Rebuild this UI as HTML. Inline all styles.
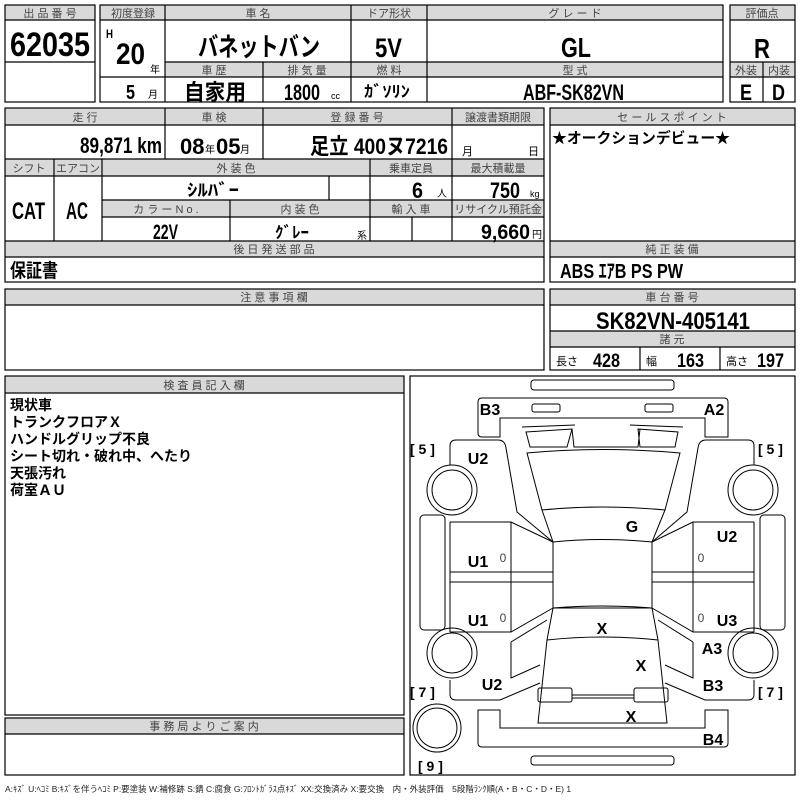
<!DOCTYPE html>
<html><head><meta charset="utf-8">
<style>
html,body{margin:0;padding:0;background:#fff;}
svg{display:block;}
text{font-family:"Liberation Sans","Noto Sans CJK JP",sans-serif;}
.h{font-size:11px;fill:#444;text-anchor:middle;}
.v{font-weight:bold;fill:#000;}
.m{text-anchor:middle;}
.e{text-anchor:end;}
</style></head><body>
<svg width="800" height="800" viewBox="0 0 800 800" xmlns="http://www.w3.org/2000/svg">
<g fill="#d9d9d9" stroke="none">
<rect x="5" y="5" width="90" height="15"/>
<rect x="100" y="5" width="623" height="15"/>
<rect x="165" y="62" width="558" height="15"/>
<rect x="730" y="5" width="65" height="15"/>
<rect x="730" y="62" width="65" height="15"/>
<rect x="5" y="108" width="539" height="17"/>
<rect x="5" y="159" width="539" height="17"/>
<rect x="102" y="200" width="442" height="17"/>
<rect x="5" y="241" width="539" height="16"/>
<rect x="550" y="108" width="245" height="17"/>
<rect x="550" y="241" width="245" height="16"/>
<rect x="5" y="289" width="539" height="16"/>
<rect x="550" y="289" width="245" height="16"/>
<rect x="550" y="331" width="245" height="16"/>
<rect x="5" y="376" width="399" height="17"/>
<rect x="5" y="718" width="399" height="16"/>
</g>
<g fill="none" stroke="#000" stroke-width="1.2">
<rect x="5" y="5" width="90" height="97"/>
<line x1="5" y1="20" x2="95" y2="20"/><line x1="5" y1="62" x2="95" y2="62"/>
<rect x="100" y="5" width="623" height="97"/>
<line x1="100" y1="20" x2="723" y2="20"/><line x1="165" y1="62" x2="723" y2="62"/><line x1="100" y1="77" x2="723" y2="77"/>
<line x1="165" y1="5" x2="165" y2="102"/><line x1="351" y1="5" x2="351" y2="102"/><line x1="427" y1="5" x2="427" y2="102"/><line x1="263" y1="62" x2="263" y2="102"/>
<rect x="730" y="5" width="65" height="97"/>
<line x1="730" y1="20" x2="795" y2="20"/><line x1="730" y1="62" x2="795" y2="62"/><line x1="730" y1="77" x2="795" y2="77"/><line x1="763" y1="62" x2="763" y2="102"/>
<rect x="5" y="108" width="539" height="174"/>
<line x1="5" y1="125" x2="544" y2="125"/><line x1="5" y1="159" x2="544" y2="159"/><line x1="5" y1="176" x2="544" y2="176"/>
<line x1="102" y1="200" x2="544" y2="200"/><line x1="102" y1="217" x2="544" y2="217"/><line x1="5" y1="241" x2="544" y2="241"/><line x1="5" y1="257" x2="544" y2="257"/>
<line x1="165" y1="108" x2="165" y2="159"/><line x1="263" y1="108" x2="263" y2="159"/><line x1="452" y1="108" x2="452" y2="159"/>
<line x1="54" y1="159" x2="54" y2="241"/><line x1="102" y1="159" x2="102" y2="241"/><line x1="370" y1="159" x2="370" y2="241"/><line x1="452" y1="159" x2="452" y2="241"/>
<line x1="329" y1="176" x2="329" y2="200"/><line x1="230" y1="200" x2="230" y2="241"/><line x1="412" y1="217" x2="412" y2="241"/>
<rect x="550" y="108" width="245" height="174"/>
<line x1="550" y1="125" x2="795" y2="125"/><line x1="550" y1="241" x2="795" y2="241"/><line x1="550" y1="257" x2="795" y2="257"/>
<rect x="5" y="289" width="539" height="81"/><line x1="5" y1="305" x2="544" y2="305"/>
<rect x="550" y="289" width="245" height="81"/>
<line x1="550" y1="305" x2="795" y2="305"/><line x1="550" y1="331" x2="795" y2="331"/><line x1="550" y1="347" x2="795" y2="347"/>
<line x1="640" y1="347" x2="640" y2="370"/><line x1="720" y1="347" x2="720" y2="370"/>
<rect x="5" y="376" width="399" height="339"/><line x1="5" y1="393" x2="404" y2="393"/>
<rect x="5" y="718" width="399" height="57"/><line x1="5" y1="734" x2="404" y2="734"/>
<rect x="410" y="376" width="385" height="399"/>
</g>
<text class="h" x="50" y="17">出 品 番 号</text>
<text class="h" x="133" y="17">初度登録</text>
<text class="h" x="258" y="17">車 名</text>
<text class="h" x="389" y="17">ドア形状</text>
<text class="h" x="575" y="17">グ レ ー ド</text>
<text class="h" x="762" y="17">評価点</text>
<text class="h" x="214" y="74">車 歴</text>
<text class="h" x="307" y="74">排 気 量</text>
<text class="h" x="389" y="74">燃 料</text>
<text class="h" x="575" y="74">型 式</text>
<text class="h" x="746" y="74">外装</text>
<text class="h" x="779" y="74">内装</text>
<text class="h" x="85" y="121">走 行</text>
<text class="h" x="214" y="121">車 検</text>
<text class="h" x="357" y="121">登 録 番 号</text>
<text class="h" x="498" y="121">譲渡書類期限</text>
<text class="h" x="29" y="172">シフト</text>
<text class="h" x="78" y="172">エアコン</text>
<text class="h" x="236" y="172">外 装 色</text>
<text class="h" x="411" y="172">乗車定員</text>
<text class="h" x="498" y="172">最大積載量</text>
<text class="h" x="166" y="213">カ ラ ー N o .</text>
<text class="h" x="300" y="213">内 装 色</text>
<text class="h" x="411" y="213">輸 入 車</text>
<text class="h" x="498" y="213">リサイクル預託金</text>
<text class="h" x="274" y="253">後 日 発 送 部 品</text>
<text class="h" x="672" y="121">セ ー ル ス ポ イ ン ト</text>
<text class="h" x="672" y="253">純 正 装 備</text>
<text class="h" x="274" y="301">注 意 事 項 欄</text>
<text class="h" x="672" y="301">車 台 番 号</text>
<text class="h" x="672" y="343">諸 元</text>
<text class="h" x="204" y="389">検 査 員 記 入 欄</text>
<text class="h" x="204" y="730">事 務 局 よ り ご 案 内</text>
<g class="v">
<text x="10" y="56" font-size="34" textLength="80" lengthAdjust="spacingAndGlyphs">62035</text>
<text x="106" y="38" font-size="12" textLength="7" lengthAdjust="spacingAndGlyphs">H</text>
<text x="116" y="64" font-size="30" textLength="29" lengthAdjust="spacingAndGlyphs">20</text>
<text x="150" y="73" font-size="10" font-weight="normal">年</text>
<text x="126" y="99" font-size="20" textLength="9" lengthAdjust="spacingAndGlyphs">5</text>
<text x="148" y="98" font-size="10" font-weight="normal">月</text>
<text x="198" y="56" font-size="26" textLength="122" lengthAdjust="spacingAndGlyphs">バネットバン</text>
<text x="375" y="57" font-size="27" textLength="27" lengthAdjust="spacingAndGlyphs">5V</text>
<text x="561" y="57" font-size="28" textLength="30" lengthAdjust="spacingAndGlyphs">GL</text>
<text x="754" y="58" font-size="28" textLength="16" lengthAdjust="spacingAndGlyphs">R</text>
<text x="184" y="100" font-size="22" textLength="62" lengthAdjust="spacingAndGlyphs">自家用</text>
<text x="284" y="100" font-size="22" textLength="36" lengthAdjust="spacingAndGlyphs">1800</text>
<text x="331" y="99" font-size="9" font-weight="normal">cc</text>
<text x="364" y="97" font-size="16" textLength="46" lengthAdjust="spacingAndGlyphs">ｶﾞｿﾘﾝ</text>
<text x="523" y="100" font-size="22" textLength="101" lengthAdjust="spacingAndGlyphs">ABF-SK82VN</text>
<text x="740" y="100" font-size="22" textLength="12" lengthAdjust="spacingAndGlyphs">E</text>
<text x="772" y="100" font-size="22" textLength="13" lengthAdjust="spacingAndGlyphs">D</text>
<text x="80" y="153" font-size="22" textLength="82" lengthAdjust="spacingAndGlyphs">89,871 km</text>
<text x="180" y="154" font-size="22">08</text>
<text x="205" y="153" font-size="10" font-weight="normal">年</text>
<text x="216" y="154" font-size="22">05</text>
<text x="240" y="153" font-size="10" font-weight="normal">月</text>
<text x="310" y="154" font-size="22" textLength="138" lengthAdjust="spacingAndGlyphs">足立 400ヌ7216</text>
<text x="462" y="155" font-size="11" font-weight="normal">月</text>
<text x="528" y="155" font-size="11" font-weight="normal">日</text>
<text x="187" y="196" font-size="17" textLength="52" lengthAdjust="spacingAndGlyphs">ｼﾙﾊﾞｰ</text>
<text x="412" y="198" font-size="22" textLength="11" lengthAdjust="spacingAndGlyphs">6</text>
<text x="437" y="197" font-size="10" font-weight="normal">人</text>
<text x="490" y="198" font-size="22" textLength="30" lengthAdjust="spacingAndGlyphs">750</text>
<text x="530" y="197" font-size="9" font-weight="normal">kg</text>
<text x="12" y="219" font-size="24" textLength="33" lengthAdjust="spacingAndGlyphs">CAT</text>
<text x="66" y="219" font-size="24" textLength="22" lengthAdjust="spacingAndGlyphs">AC</text>
<text x="153" y="239" font-size="21" textLength="25" lengthAdjust="spacingAndGlyphs">22V</text>
<text x="275" y="238" font-size="16" textLength="34" lengthAdjust="spacingAndGlyphs">ｸﾞﾚｰ</text>
<text x="357" y="239" font-size="10" font-weight="normal">系</text>
<text x="481" y="239" font-size="21" textLength="49" lengthAdjust="spacingAndGlyphs">9,660</text>
<text x="532" y="238" font-size="10" font-weight="normal">円</text>
<text x="10" y="277" font-size="19" textLength="48" lengthAdjust="spacingAndGlyphs">保証書</text>
<text x="552" y="143" font-size="15" textLength="178" lengthAdjust="spacingAndGlyphs">★オークションデビュー★</text>
<text x="560" y="278" font-size="20" textLength="123" lengthAdjust="spacingAndGlyphs">ABS ｴｱB PS PW</text>
<text x="596" y="329" font-size="24" textLength="154" lengthAdjust="spacingAndGlyphs">SK82VN-405141</text>
<text x="556" y="365" font-size="11" font-weight="normal">長さ</text>
<text x="593" y="367" font-size="19" textLength="27" lengthAdjust="spacingAndGlyphs">428</text>
<text x="646" y="365" font-size="11" font-weight="normal">幅</text>
<text x="677" y="367" font-size="19" textLength="27" lengthAdjust="spacingAndGlyphs">163</text>
<text x="726" y="365" font-size="11" font-weight="normal">高さ</text>
<text x="757" y="367" font-size="19" textLength="27" lengthAdjust="spacingAndGlyphs">197</text>
</g>
<g font-size="14" font-weight="bold">
<text x="10" y="410">現状車</text>
<text x="10" y="427">トランクフロアＸ</text>
<text x="10" y="444">ハンドルグリップ不良</text>
<text x="10" y="461">シート切れ・破れ中、へたり</text>
<text x="10" y="478">天張汚れ</text>
<text x="10" y="495">荷室ＡＵ</text>
</g>
<g fill="none" stroke="#000" stroke-width="1">
<rect x="531" y="380" width="143" height="10" rx="3"/>
<rect x="531" y="756" width="143" height="9" rx="3"/>
<path d="M482,398 L724,398 Q728,398 728,402 L728,437 L705,437 L705,418 L500,418 L500,437 L482,437 Q478,437 478,433 L478,402 Q478,398 482,398 Z"/>
<rect x="532" y="404" width="28" height="8" rx="2"/><rect x="645" y="404" width="28" height="8" rx="2"/>
<path d="M478,710 L500,710 L500,728 L705,728 L705,710 L728,710 L728,743 Q728,747 724,747 L482,747 Q478,747 478,743 Z"/>
<path d="M522,427 L575,425 M630,425 L683,427"/>
<path d="M526,432 L572,429 L567,447 L530,447 Z M638,429 L678,432 L675,447 L640,447 Z"/>
<path d="M572,429 L574,447 L638,447 L640,429"/>
<path d="M527,453 Q602,446 680,453 L665,510 Q602,504 542,510 Z"/>
<path d="M542,510 L553,542 Q602,537 652,542 L665,510"/>
<path d="M553,542 L553,608 L652,608 L652,542"/>
<path d="M553,608 Q602,604 652,608 L658,640 Q602,634 547,640 Z"/>
<path d="M547,640 L538,723 L667,723 L658,640"/>
<rect x="538" y="688" width="34" height="14" rx="2"/><rect x="634" y="688" width="34" height="14" rx="2"/>
<line x1="572" y1="695" x2="634" y2="695"/><line x1="572" y1="698" x2="634" y2="698"/>
<path d="M450,465 L450,446 Q450,440 456,440 L498,440 Q505,440 506,448 L517,512 L553,542"/>
<path d="M450,522 L511,522 L553,542 M450,572 L553,572 M450,582 L553,582 M450,632 L511,632 L553,608 M511,522 L511,632 M450,522 L450,632"/>
<path d="M511,642 L547,620 M511,642 L511,678 L540,665 M450,680 L450,694 Q450,700 456,700 L500,700 L540,683"/>
<rect x="420" y="515" width="25" height="115" rx="4"/>
<path d="M754,465 L754,446 Q754,440 748,440 L706,440 Q699,440 698,448 L687,512 L652,542"/>
<path d="M754,522 L693,522 L652,542 M754,572 L652,572 M754,582 L652,582 M754,632 L693,632 L652,608 M693,522 L693,632 M754,522 L754,632"/>
<path d="M693,642 L658,620 M693,642 L693,678 L665,665 M754,680 L754,694 Q754,700 748,700 L705,700 L665,683"/>
<rect x="760" y="515" width="25" height="115" rx="4"/>
<circle cx="452" cy="490" r="25"/><circle cx="452" cy="490" r="20"/>
<circle cx="753" cy="490" r="25"/><circle cx="753" cy="490" r="20"/>
<circle cx="452" cy="653" r="25"/><circle cx="452" cy="653" r="20"/>
<circle cx="753" cy="653" r="25"/><circle cx="753" cy="653" r="20"/>
<circle cx="437" cy="728" r="24"/><circle cx="437" cy="728" r="20"/>
</g>
<g font-size="16" font-weight="bold" text-anchor="middle">
<text x="490" y="415">B3</text><text x="714" y="415">A2</text>
<text x="478" y="464">U2</text><text x="727" y="542">U2</text>
<text x="632" y="532">G</text>
<text x="478" y="567">U1</text><text x="478" y="626">U1</text><text x="727" y="626">U3</text>
<text x="602" y="634">X</text><text x="712" y="654">A3</text><text x="641" y="671">X</text>
<text x="492" y="690">U2</text><text x="713" y="691">B3</text><text x="631" y="722">X</text><text x="713" y="745">B4</text>
</g>
<g font-size="14" font-weight="bold">
<text x="410" y="454">[ 5 ]</text><text x="758" y="454">[ 5 ]</text>
<text x="410" y="697">[ 7 ]</text><text x="758" y="697">[ 7 ]</text>
<text x="418" y="771">[ 9 ]</text>
</g>
<g font-size="12" fill="#444" text-anchor="middle">
<text x="503" y="562">0</text><text x="701" y="562">0</text><text x="503" y="622">0</text><text x="701" y="622">0</text>
</g>
<text x="5" y="792" font-size="8.5" fill="#222">A:ｷｽﾞ U:ﾍｺﾐ B:ｷｽﾞを伴うﾍｺﾐ P:要塗装 W:補修跡 S:錆 C:腐食 G:ﾌﾛﾝﾄｶﾞﾗｽ点ｷｽﾞ XX:交換済み X:要交換　内・外装評価　5段階ﾗﾝｸ順(A・B・C・D・E) 1</text>
</svg>
</body></html>
